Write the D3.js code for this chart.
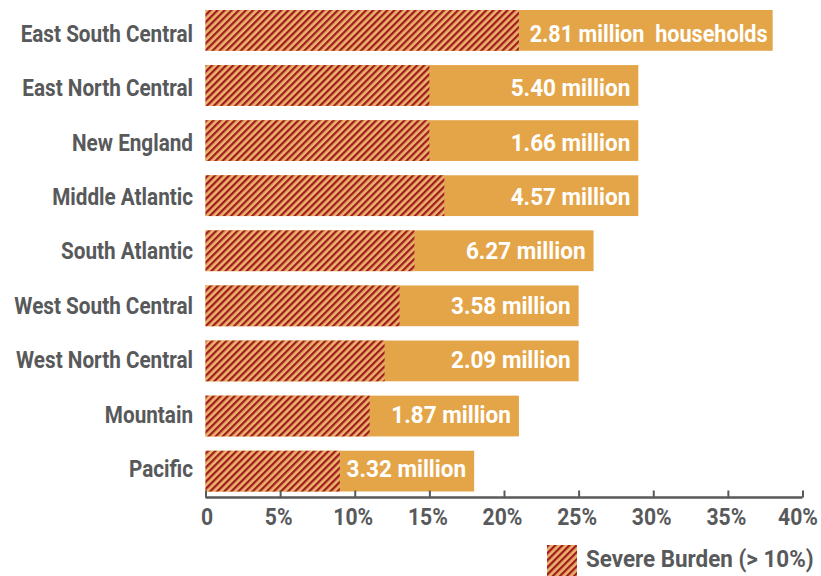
<!DOCTYPE html>
<html>
<head>
<meta charset="utf-8">
<script src="https://cdn.jsdelivr.net/npm/d3@7"></script>
<style>
  body { margin: 0; background: #fff; }
  svg text { font-family: Roboto, "Open Sans", sans-serif; font-weight: bold; }
</style>
</head>
<body>
<div id="chart"></div>
<script>
const regions = ['East South Central', 'East North Central', 'New England', 'Middle Atlantic',
  'South Atlantic', 'West South Central', 'West North Central', 'Mountain', 'Pacific'];
const totalBurden = [38, 29, 29, 29, 26, 25, 25, 21, 18];
const severeBurden = [21, 15, 15, 16, 14, 13, 12, 11, 9];
const households = ['2.81 million\u00a0 households', '5.40 million', '1.66 million', '4.57 million',
  '6.27 million', '3.58 million', '2.09 million', '1.87 million', '3.32 million'];
const xTicks = [0, 5, 10, 15, 20, 25, 30, 35, 40];
const legendLabel = 'Severe Burden (> 10%)';

const data = regions.map((r, i) => ({
  region: r, total: totalBurden[i], severe: severeBurden[i], label: households[i]
}));

const grey = '#58595B';

const svg = d3.select('#chart').append('svg')
  .attr('width', 821)
  .attr('height', 576);

// hatch pattern for the severe part
const defs = svg.append('defs');
const pat = defs.append('pattern')
  .attr('id', 'hatch')
  .attr('patternUnits', 'userSpaceOnUse')
  .attr('width', 5)
  .attr('height', 5)
  .attr('patternTransform', 'rotate(45)');
pat.append('rect').attr('width', 5).attr('height', 5).attr('fill', '#ECB36C');
pat.append('rect').attr('width', 2.3).attr('height', 5).attr('fill', '#A01D1F');

const x = d3.scaleLinear().domain([0, 40]).range([205.5, 802.5]);
const y = d3.scaleBand()
  .domain(regions)
  .range([10, 491.5])
  .paddingInner(0.26)
  .paddingOuter(0);
// text rows sit on a slightly tighter spacing than the bars
const yText = d3.scalePoint().domain(regions).range([33.5, 469]);

// total bars
svg.selectAll('.total')
  .data(data)
  .join('rect')
  .attr('class', 'total')
  .attr('x', x(0))
  .attr('y', d => y(d.region))
  .attr('width', d => x(d.total) - x(0))
  .attr('height', y.bandwidth())
  .attr('fill', '#E4A548');

// severe bars
svg.selectAll('.severe')
  .data(data)
  .join('rect')
  .attr('class', 'severe')
  .attr('x', x(0))
  .attr('y', d => y(d.region))
  .attr('width', d => x(d.severe) - x(0))
  .attr('height', y.bandwidth())
  .attr('fill', 'url(#hatch)');

// value labels, right aligned at the bar end
svg.selectAll('.val')
  .data(data)
  .join('text')
  .attr('class', 'val')
  .attr('transform', d => {
    const long = d.label.length > 15;
    return `translate(${x(d.total) - (long ? 5 : 8)},${yText(d.region)}) scale(${long ? 0.94 : 0.98},1)`;
  })
  .attr('dy', '0.355em')
  .attr('text-anchor', 'end')
  .attr('fill', '#fff')
  .style('font-size', '23px')
  .text(d => d.label);

// category labels
svg.selectAll('.cat')
  .data(data)
  .join('text')
  .attr('class', 'cat')
  .attr('transform', d => `translate(193,${yText(d.region)}) scale(0.9,1)`)
  .attr('dy', '0.355em')
  .attr('text-anchor', 'end')
  .attr('fill', grey)
  .style('font-size', '23px')
  .text(d => d.region);

// x axis
const axisY = 497.5;
const xAxis = svg.append('g')
  .attr('transform', `translate(0,${axisY})`)
  .call(d3.axisBottom(x).tickValues(xTicks).tickSize(-7)
    .tickFormat(d => d === 0 ? '0' : d + '%'));
xAxis.select('.domain').attr('stroke', grey).attr('stroke-width', 2.5)
  .attr('d', `M${x(0)},0H${x(40)}`);
xAxis.selectAll('.tick line').attr('stroke', grey).attr('stroke-width', 2);
xAxis.selectAll('.tick text')
  .attr('fill', grey)
  .attr('y', 0)
  .attr('dy', '0.355em')
  .attr('transform', d => `translate(${d === 40 ? -5 : d === 0 ? 1 : -2},18.5) scale(0.88,1)`)
  .style('font-size', '24px');

// legend
const legend = svg.append('g').attr('transform', 'translate(547,545)');
legend.append('rect').attr('width', 30).attr('height', 31).attr('fill', 'url(#hatch)');
legend.append('text')
  .attr('transform', 'translate(39,13.5) scale(0.975,1)')
  .attr('dy', '0.355em')
  .attr('fill', grey)
  .style('font-size', '23px')
  .text(legendLabel);
</script>
</body>
</html>
